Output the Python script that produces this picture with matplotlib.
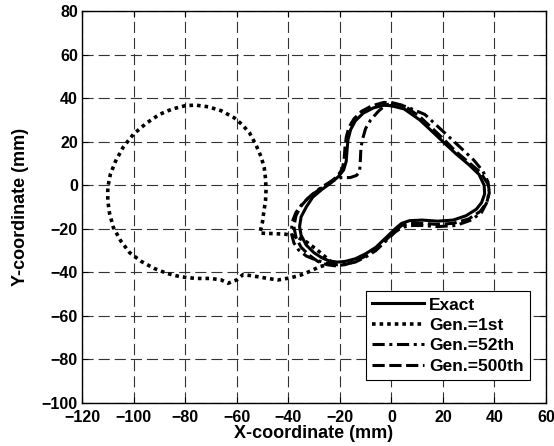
import matplotlib
matplotlib.use("Agg")
import matplotlib.pyplot as plt

plt.rcParams['font.family'] = ['Liberation Sans', 'DejaVu Sans']
plt.rcParams['font.weight'] = 'bold'

# ---------------- data ----------------
exact_x = [0, 5, 11, 16, 20, 25, 30, 34, 36, 36.2, 35, 33, 29, 24, 18, 12, 7, 4, 1.5, -2, -6, -10,
           -14, -18, -21, -24, -27, -30, -33, -35, -35.6, -35, -33, -30.5, -27, -23.5, -20.5, -18.5,
           -17.5, -17.2, -16.8, -15.8, -14, -11, -7, -3, 0]
exact_y = [36.5, 35, 30, 24.5, 20, 14.5, 9.5, 5, 0, -4, -8, -11, -14, -16, -16.5, -16, -16.3, -17.5,
           -20, -24, -28.5, -31.5, -33.8, -35, -35.3, -34.8, -33.3, -31, -27.5, -23, -19, -14.5, -10,
           -5.5, -2, 1, 4, 7, 11, 16, 21, 25.5, 29.5, 33, 35.5, 36.7, 36.5]

gen1_x = [-23, -26, -29, -33, -37, -41, -46, -51, -50, -49.5, -48.8, -48.6, -48.8, -49.3, -50.5, -52.5,
          -55, -58, -61, -66, -71, -76, -80, -85, -90, -95, -100, -104, -107, -109, -110, -110, -109.3,
          -107.8, -105, -101.5, -97, -92, -87, -82, -76, -70, -66, -63.3, -60, -57.5, -53, -48.5, -44,
          -39, -35, -31.5, -28, -25, -23]
gen1_y = [-35.5, -32.5, -29.5, -26, -23.5, -22.5, -22.2, -22, -17, -12.5, -7, -2, 3, 8, 13, 18.5,
          24, 28, 31, 34.2, 36, 36.8, 36.5, 35, 32.5, 28.5, 23.5, 17.5, 11, 5, -1, -7, -13,
          -19.5, -25.5, -31, -35, -38.2, -40.5, -42, -42.8, -42.8, -43.5, -45, -43.5, -41, -41.8, -42.7, -43.5,
          -42.5, -41.2, -39.5, -37.5, -36.5, -35.5]

gen52_x = [1, 6, 13, 18, 23, 28, 32, 35.5, 37.5, 38, 37, 35, 31, 25, 18, 12, 7, 4, 1.5, -2, -6, -10,
           -14, -18, -21, -25, -29, -33, -36, -37.8, -38.8, -38.5, -37, -34.5, -31, -27, -23, -19.5,
           -16, -13.5, -12.4, -12.2, -12, -11.8, -11.2, -10, -8, -5, -2, 1]
gen52_y = [37.5, 36, 32.5, 27, 21.5, 16, 11.5, 6.5, 1.5, -3, -8, -12.5, -16, -18.5, -19, -18.5, -18.5,
           -19.5, -21.5, -25.5, -30, -33, -35.3, -36.3, -36.5, -35.8, -34.5, -32.5, -29.7, -26.5, -22,
           -17, -12.5, -8.5, -4.5, -0.8, 2, 3.5, 3.5, 4.5, 6, 8, 12, 17, 21, 26, 30, 34, 37, 37.5]

gen500_x = [0, 5, 11, 16, 20, 25, 30, 34.5, 37.5, 38, 37, 34.5, 30, 24, 18, 12, 7, 4, 1.5, -2, -6, -10,
            -14, -18, -22, -25, -28.5, -32, -35, -37, -37.8, -37, -35, -32, -28, -24, -21, -19, -18.3,
            -18, -17.5, -16.5, -14.5, -11.5, -7.5, -3, 0]
gen500_y = [38, 36.5, 31.5, 26, 21.5, 15.5, 10.5, 6, 0.5, -3.5, -8, -12, -15.5, -17.5, -18, -17.5,
            -17.5, -18.5, -21, -25, -29.5, -32.5, -35, -36.5, -37, -36.5, -35, -32, -28.5, -24, -19,
            -14, -9.5, -5.5, -2, 1.2, 4, 7.5, 12, 17, 22, 26.5, 30.5, 34, 36.5, 38, 38]

labels = ['Exact', 'Gen.=1st', 'Gen.=52th', 'Gen.=500th']
x_ticks = [-120, -100, -80, -60, -40, -20, 0, 20, 40, 60]
y_ticks = [-100, -80, -60, -40, -20, 0, 20, 40, 60, 80]

# ---------------- plot ----------------
fig = plt.figure(figsize=(5.54, 4.46), dpi=100)
ax = fig.add_axes([82 / 554, 43 / 446, 464 / 554, 392 / 446])

lw = 2.2
ax.plot(exact_x, exact_y, color='black', lw=lw, ls='-', label=labels[0], solid_joinstyle='round')
ax.plot(gen1_x, gen1_y, color='black', lw=2.6, ls=(0, (1, 1.1)), label=labels[1])
ax.plot(gen52_x, gen52_y, color='black', lw=lw, ls=(0, (4, 1.5, 1, 1.5)), label=labels[2])
ax.plot(gen500_x, gen500_y, color='black', lw=lw, ls=(0, (4, 1.5)), label=labels[3])

ax.set_xlim(-120, 60)
ax.set_ylim(-100, 80)
ax.set_xticks(x_ticks)
ax.set_yticks(y_ticks)
ax.grid(True, color='#333333', lw=0.8, ls=(0, (10, 4.5)))
ax.set_axisbelow(True)
ax.tick_params(direction='in', top=True, right=True, length=4, width=0.8,
               labelsize=11.5)
ax.tick_params(axis='x', pad=5)
ax.tick_params(axis='y', pad=3)
for lab in ax.get_xticklabels() + ax.get_yticklabels():
    lab.set_fontweight('bold')
for s in ax.spines.values():
    s.set_linewidth(1.0)

ax.set_xlabel('X-coordinate (mm)', fontsize=13, fontweight='bold', labelpad=0)
ax.set_ylabel('Y-coordinate (mm)', fontsize=13, fontweight='bold', labelpad=9)

leg = ax.legend(loc='upper right', bbox_to_anchor=(0.965, 0.285), borderaxespad=0,
                prop={'weight': 'bold', 'size': 12.5}, frameon=True, fancybox=False,
                edgecolor='black', handlelength=3.0, handletextpad=0.3,
                labelspacing=0.3, borderpad=0.35)
leg.get_frame().set_linewidth(0.8)
leg.get_frame().set_alpha(1)

fig.savefig('out.png', dpi=100)
